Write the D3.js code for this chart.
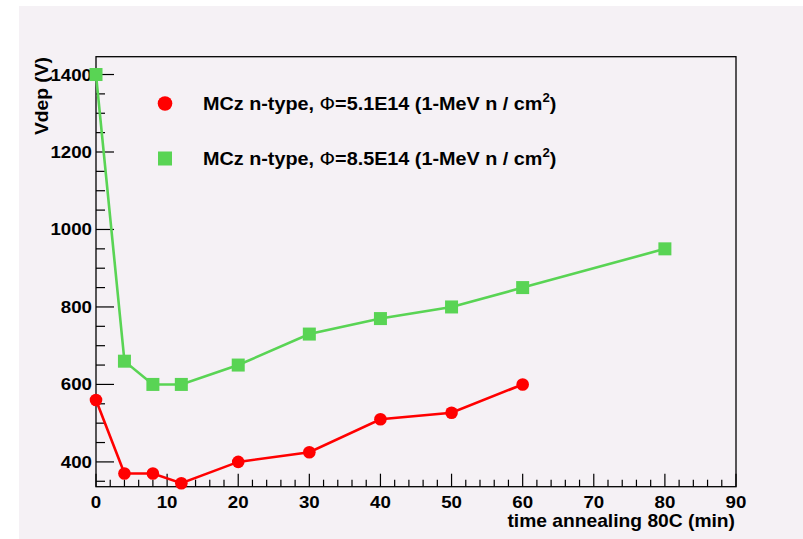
<!DOCTYPE html>
<html>
<head>
<meta charset="utf-8">
<script src="https://cdn.jsdelivr.net/npm/d3@7"></script>
<style>
  html, body { margin: 0; padding: 0; background: #ffffff; }
  svg { display: block; }
  text { font-family: "Liberation Sans", Arial, Helvetica, sans-serif; font-weight: bold; fill: #000; }
</style>
</head>
<body>
<svg id="chart" width="803" height="539"></svg>
<script>
// Annealing times (min) for each fluence
const timesLow = [0, 4, 8, 12, 20, 30, 40, 50, 60];
const vdepLow = [560, 370, 370, 345, 400, 425, 510, 527, 600];

const timesHigh = [0, 4, 8, 12, 20, 30, 40, 50, 60, 80];
const vdepHigh = [1400, 660, 600, 600, 650, 730, 770, 800, 850, 950];

const xTicks = [0, 10, 20, 30, 40, 50, 60, 70, 80, 90];
const yTicks = [400, 600, 800, 1000, 1200, 1400];

const seriesNames = ["5.1E14", "8.5E14"];

const svg = d3.select("#chart");
const W = 803, H = 539;
const SX = 1.1; // horizontal stretch of the label font

// place a label in its own group so it can be widened around its anchor
function label(parent, px, py, anchor, size, rot) {
  const g = parent.append("g")
    .attr("transform", `translate(${px},${py})` + (rot ? ` rotate(${rot})` : "") + ` scale(${SX},1)`);
  return g.append("text").attr("text-anchor", anchor).attr("font-size", size);
}

// canvas pad
svg.append("rect").attr("x", 19).attr("y", 6).attr("width", W - 19).attr("height", H - 6)
  .attr("fill", "#f5f1f5");

const frameL = 96, frameR = 736, frameT = 56.7, frameB = 486.7;

const x = d3.scaleLinear().domain([0, 90]).range([frameL, frameR]);
const y = d3.scaleLinear().domain([336, 1446]).range([frameB, frameT]);

const red = "#ff0000", green = "#59d454";

// frame
svg.append("rect").attr("x", frameL).attr("y", frameT)
  .attr("width", frameR - frameL).attr("height", frameB - frameT)
  .attr("fill", "none").attr("stroke", "#000").attr("stroke-width", 1.3);

// x axis: major ticks every 10, minor every 2
const xMinor = d3.range(0, 91, 2).filter(v => v % 10 !== 0);
const xAxis = svg.append("g");
xAxis.selectAll("line.maj").data(xTicks).join("line")
  .attr("x1", d => x(d)).attr("x2", d => x(d))
  .attr("y1", frameB).attr("y2", frameB - 13)
  .attr("stroke", "#000").attr("stroke-width", 1.2);
xAxis.selectAll("line.min").data(xMinor).join("line")
  .attr("x1", d => x(d)).attr("x2", d => x(d))
  .attr("y1", frameB).attr("y2", frameB - 7)
  .attr("stroke", "#000").attr("stroke-width", 1.2);
xTicks.forEach(d => label(xAxis, x(d), 508, "middle", 17).text(d));

// y axis: major ticks every 200, minor every 50
const yMinor = d3.range(350, 1446, 50).filter(v => v % 200 !== 0);
const yAxis = svg.append("g");
yAxis.selectAll("line.maj").data(yTicks).join("line")
  .attr("x1", frameL).attr("x2", frameL + 18)
  .attr("y1", d => y(d)).attr("y2", d => y(d))
  .attr("stroke", "#000").attr("stroke-width", 1.2);
yAxis.selectAll("line.min").data(yMinor).join("line")
  .attr("x1", frameL).attr("x2", frameL + 9)
  .attr("y1", d => y(d)).attr("y2", d => y(d))
  .attr("stroke", "#000").attr("stroke-width", 1.2);
yTicks.forEach(d => label(yAxis, 92, y(d) + 6, "end", 17).text(d));

// axis titles
label(svg, 735, 527, "end", 17.5).text("time annealing 80C (min)");
label(svg, 47.5, 57, "end", 17.5, -90).text("Vdep (V)");

// series
const line = d3.line().x(d => x(d[0])).y(d => y(d[1]));
const lowPts = d3.zip(timesLow, vdepLow);
const highPts = d3.zip(timesHigh, vdepHigh);

svg.append("path").datum(highPts).attr("d", line)
  .attr("fill", "none").attr("stroke", green).attr("stroke-width", 2.6);
svg.append("path").datum(lowPts).attr("d", line)
  .attr("fill", "none").attr("stroke", red).attr("stroke-width", 2.6);

const sq = 13;
svg.selectAll("rect.pt").data(highPts).join("rect")
  .attr("x", d => x(d[0]) - sq / 2).attr("y", d => y(d[1]) - sq / 2)
  .attr("width", sq).attr("height", sq).attr("fill", green);
svg.selectAll("circle.pt").data(lowPts).join("circle")
  .attr("cx", d => x(d[0])).attr("cy", d => y(d[1])).attr("r", 6.3)
  .attr("fill", red);

// legend
const legend = svg.append("g");
const legendRows = [
  { name: seriesNames[0], color: red, shape: "circle", y: 103.5 },
  { name: seriesNames[1], color: green, shape: "square", y: 158.5 }
];
legendRows.forEach(r => {
  if (r.shape === "circle") {
    legend.append("circle").attr("cx", 165).attr("cy", r.y).attr("r", 7.3).attr("fill", r.color);
  } else {
    legend.append("rect").attr("x", 165 - 7).attr("y", r.y - 7)
      .attr("width", 14).attr("height", 14).attr("fill", r.color);
  }
  const t = label(legend, 203, r.y + 6, "start", 18);
  t.append("tspan").text("MCz n-type, ");
  t.append("tspan").attr("font-weight", "normal").attr("font-family", "DejaVu Sans, sans-serif").text("Φ");
  t.append("tspan").text("=" + r.name + " (1-MeV n / cm");
  t.append("tspan").attr("font-size", 12).attr("dy", -8).text("2");
  t.append("tspan").attr("dy", 8).text(")");
});
</script>
</body>
</html>
